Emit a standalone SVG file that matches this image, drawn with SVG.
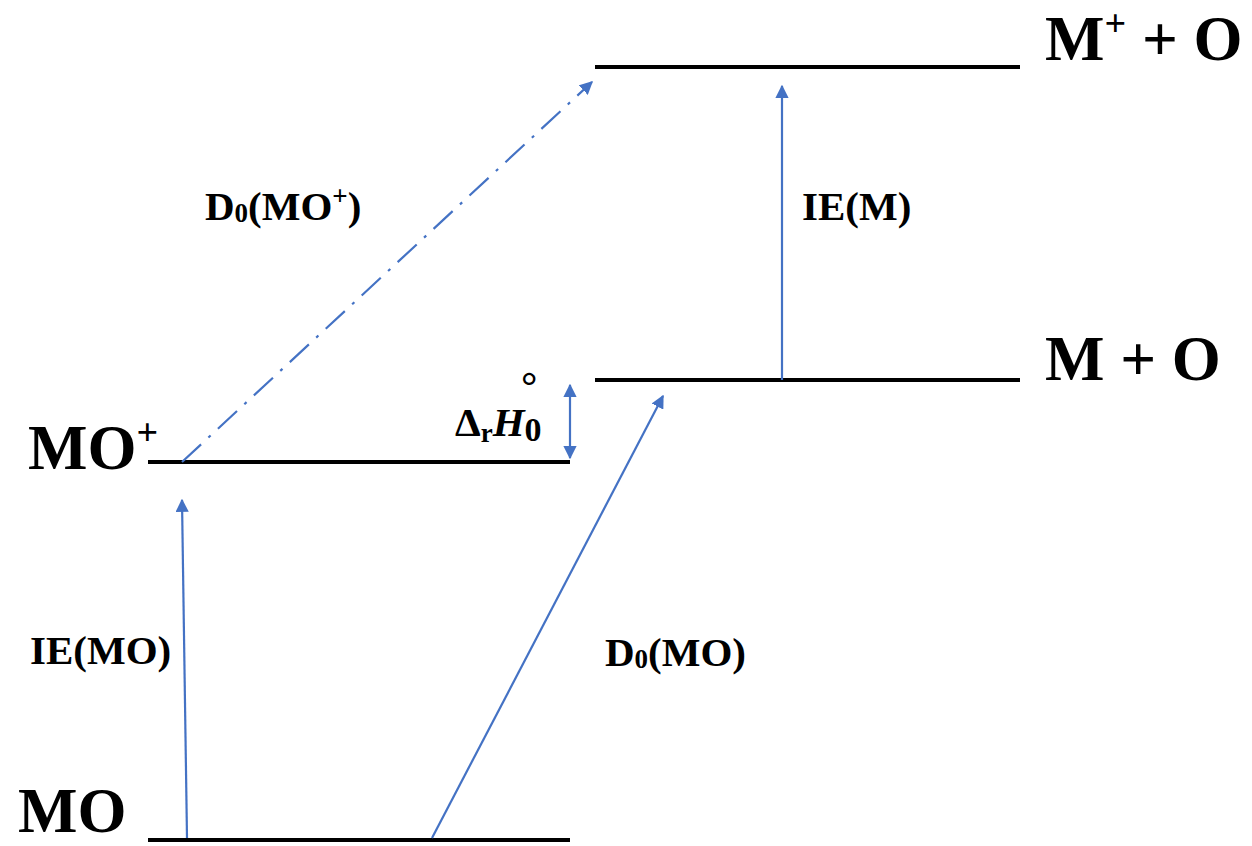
<svg xmlns="http://www.w3.org/2000/svg" width="1252" height="846" viewBox="0 0 1252 846">
<defs>
<style>
.lvl{stroke:#000;stroke-width:4;fill:none}
.ar{stroke:#4472C4;stroke-width:2.2;fill:none}
.big{font-family:"Liberation Serif",serif;font-weight:bold;font-size:63px;fill:#000}
.lab{font-family:"Liberation Serif",serif;font-weight:bold;font-size:41px;fill:#000}
</style>
<marker id="ah2" viewBox="0 0 10 10" refX="9" refY="5" markerWidth="6" markerHeight="6" orient="auto-start-reverse">
<path d="M0,0 L10,5 L0,10 z" fill="#4472C4"/>
</marker>
</defs>
<g id="levels">
<g id="level-MplusO"><line class="lvl" x1="595" y1="67" x2="1020" y2="67"/><text class="big" x="1045" y="60">M<tspan font-size="38" dy="-24">+</tspan><tspan dy="24"> + O</tspan></text></g>
<g id="level-M-O"><line class="lvl" x1="595" y1="380" x2="1020" y2="380"/><text class="big" x="1045" y="380">M + O</text></g>
<g id="level-MOplus"><line class="lvl" x1="148" y1="462" x2="570" y2="462"/><text class="big" x="28" y="469" font-size="61">MO<tspan font-size="38" dy="-24">+</tspan></text></g>
<g id="level-MO"><line class="lvl" x1="148" y1="840" x2="570" y2="840"/><text class="big" x="18" y="832" font-size="59">MO</text></g>
</g>
<g id="connectors">
<line class="ar" x1="182" y1="462" x2="592" y2="82" stroke-dasharray="26,10,3,10" marker-end="url(#ah2)"/>
<line class="ar" x1="782" y1="380" x2="782" y2="86" marker-end="url(#ah2)"/>
<line class="ar" x1="570" y1="385" x2="570" y2="458" stroke-width="3" marker-start="url(#ah2)" marker-end="url(#ah2)"/>
<line class="ar" x1="187" y1="838" x2="182" y2="500" marker-end="url(#ah2)"/>
<line class="ar" x1="432" y1="838" x2="663" y2="396" marker-end="url(#ah2)"/>
</g>
<g id="labels">
<text class="lab" x="205" y="220">D<tspan font-size="27" dy="2">0</tspan><tspan dy="-2">(MO</tspan><tspan font-size="27" dy="-15">+</tspan><tspan dy="15">)</tspan></text>
<text class="lab" x="802" y="220">IE(M)</text>
<text class="lab" x="30" y="664">IE(MO)</text>
<text class="lab" x="605" y="666">D<tspan font-size="27" dy="2">0</tspan><tspan dy="-2">(MO)</tspan></text>
<text class="lab" x="455" y="436" font-size="40">Δ<tspan font-size="27" dy="6">r</tspan><tspan font-style="italic" dy="-6">H</tspan><tspan font-size="34" dy="5">0</tspan></text>
<text class="lab" x="521" y="400" font-size="30" font-weight="normal">°</text>
</g>
</svg>
